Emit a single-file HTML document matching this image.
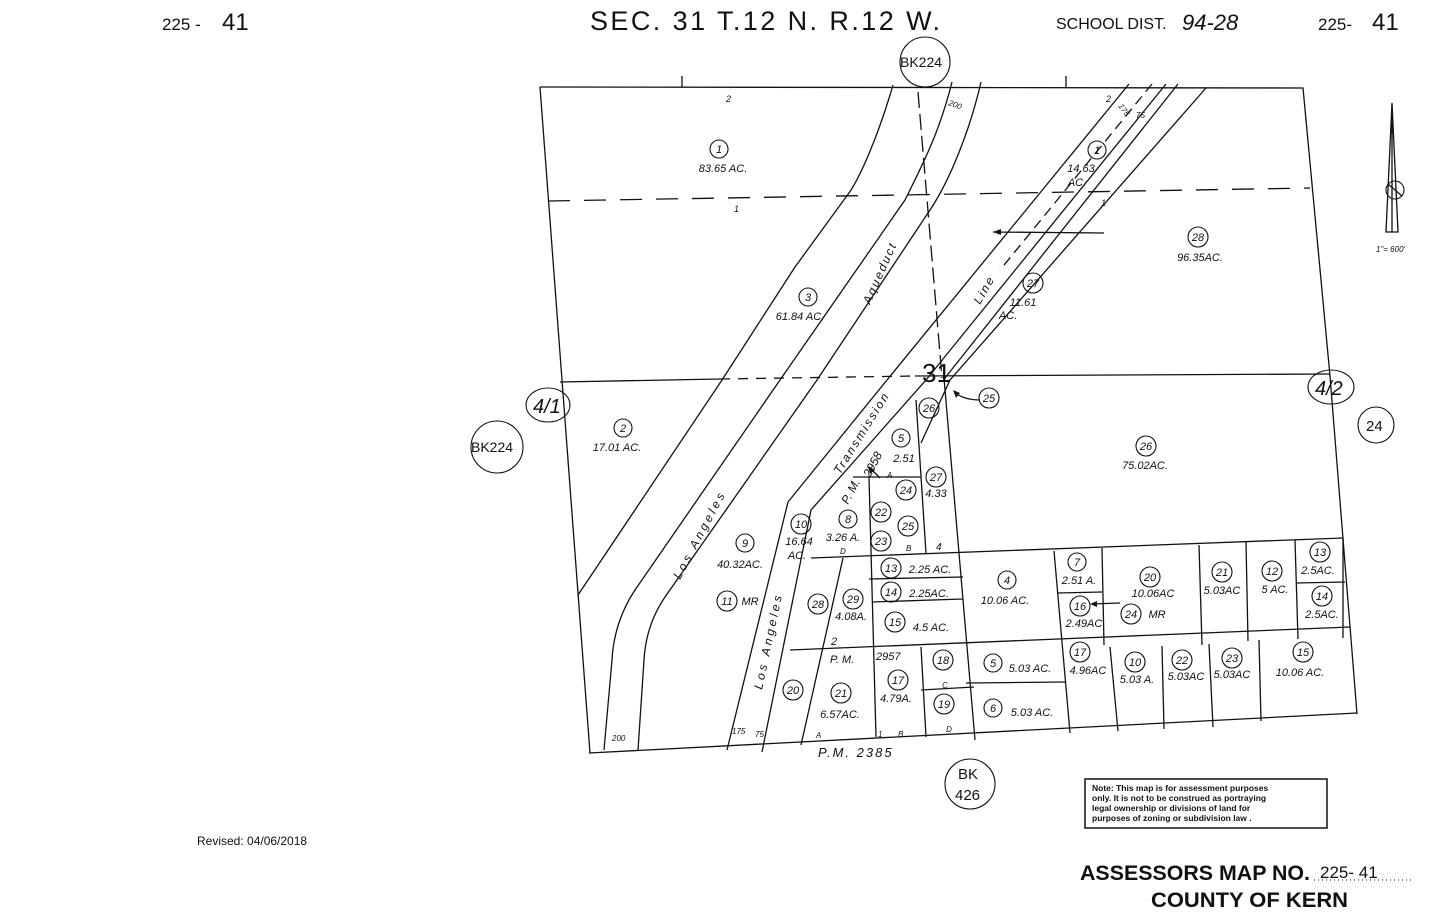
<!DOCTYPE html>
<html><head><meta charset="utf-8"><style>
html,body{margin:0;padding:0;background:#fff;}
svg{display:block;}
text{font-family:"Liberation Sans",sans-serif;fill:#111;}
.c{fill:none;stroke:#111;stroke-width:1.1}
.l{fill:none;stroke:#111;stroke-width:1.3}
.t{font-size:11px;font-style:italic;}
.n{font-size:11px;font-style:italic;text-anchor:middle;}
</style></head><body>
<svg width="1440" height="916" viewBox="0 0 1440 916" xmlns="http://www.w3.org/2000/svg">
<!-- header -->
<text x="162" y="30" font-size="17">225 -</text><text x="222" y="30" font-size="24">41</text>
<text x="590" y="30" font-size="27" textLength="350" lengthAdjust="spacing">SEC. 31  T.12 N.  R.12 W.</text>
<text x="1056" y="29" font-size="16">SCHOOL DIST.</text><text x="1182" y="30" font-size="22" font-style="italic">94-28</text>
<text x="1318" y="30" font-size="17">225-</text><text x="1372" y="30" font-size="24">41</text>

<!-- outer boundary -->
<polyline class="l" points="540,87 1303,88 1330,376 1357,714"/>
<line class="l" x1="540" y1="87" x2="590" y2="753"/>
<line class="l" x1="589" y1="753" x2="1357" y2="713"/>
<line class="l" x1="682" y1="76" x2="682" y2="87"/><line class="l" x1="1066" y1="76" x2="1066" y2="87"/>
<line class="l" x1="548" y1="201" x2="1310" y2="188" stroke-dasharray="22,14"/>
<line class="l" x1="560" y1="382" x2="720" y2="379"/>
<line class="l" x1="720" y1="379" x2="915" y2="376" stroke-dasharray="10,8"/>
<line class="l" x1="915" y1="376" x2="1330" y2="374"/>
<!-- section dashed vertical -->
<line class="l" x1="918" y1="92" x2="942" y2="378" stroke-dasharray="16,6"/>
<line class="l" x1="944" y1="378" x2="975" y2="740"/>

<!-- parcel 3 line & aqueduct -->
<path class="l" d="M893,85 C880,130 860,180 846,197 L795,267 L722,380 L578,595"/>
<path class="l" d="M952,82 C940,130 925,160 905,200 L780,380 L635,590 Q614,622 612,660 L604,750"/>
<path class="l" d="M981,82 C970,130 950,180 930,210 L817,380 L665,597 Q646,625 644,660 L638,750"/>
<!-- transmission -->
<polyline class="l" points="1129,84 887,380 788,502 727,750"/>
<polyline class="l" points="1166,84 926,380 811,510 762,752"/>
<polyline class="l" points="1152,84 1000,270" stroke-dasharray="10,6"/>
<polyline class="l" points="1178,84 945,378"/>
<polyline class="l" points="1206,88 950,380 921,443"/>
<line class="l" x1="916" y1="400" x2="926" y2="553"/>
<line class="l" x1="993" y1="232" x2="1104" y2="233"/><path d="M993,232 l8,-3 v6z" fill="#111"/>
<!-- lower grid -->
<line class="l" x1="811" y1="558" x2="1343" y2="538"/>
<line class="l" x1="790" y1="650" x2="1350" y2="627"/>
<line class="l" x1="1296" y1="583" x2="1345" y2="582"/>
<line class="l" x1="1343" y1="538" x2="1343" y2="638"/>
<line class="l" x1="1054" y1="551" x2="1070" y2="733"/>
<line class="l" x1="1102" y1="548" x2="1104" y2="645"/>
<line class="l" x1="1057" y1="593" x2="1102" y2="592"/>
<line class="l" x1="1110" y1="647" x2="1118" y2="731"/>
<line class="l" x1="1162" y1="646" x2="1164" y2="729"/>
<line class="l" x1="1199" y1="545" x2="1202" y2="645"/>
<line class="l" x1="1209" y1="644" x2="1213" y2="727"/>
<line class="l" x1="1246" y1="542" x2="1248" y2="641"/>
<line class="l" x1="1259" y1="640" x2="1261" y2="721"/>
<line class="l" x1="1295" y1="540" x2="1298" y2="639"/>
<line class="l" x1="966" y1="683" x2="1065" y2="682"/>
<line class="l" x1="853" y1="477" x2="921" y2="477"/>
<line class="l" x1="869" y1="477" x2="876" y2="737"/>
<line class="l" x1="869" y1="579" x2="963" y2="577"/>
<line class="l" x1="872" y1="602" x2="963" y2="599"/>
<line class="l" x1="843" y1="558" x2="801" y2="745"/>
<line class="l" x1="921" y1="647" x2="926" y2="737"/>
<line class="l" x1="921" y1="690" x2="974" y2="687"/>
<path class="l" d="M880,478 l-10,-10" /><path d="M868,466 l2,8 l5,-4z" fill="#111"/>
<path class="l" d="M980,400 Q965,400 955,393"/><path d="M953,390 l3,8 l4,-5z" fill="#111"/>
<path class="l" d="M1120,603 L1092,604"/><path d="M1090,604 l7,-3 v6z" fill="#111"/>

<!-- north arrow -->
<path class="l" d="M1392,103 L1386,232 L1398,232 Z M1392,103 V232"/>
<circle class="c" cx="1395" cy="190" r="9"/><line class="l" x1="1388" y1="184" x2="1402" y2="196"/>
<text x="1376" y="252" font-size="8" font-style="italic">1"= 600'</text>

<!-- reference circles -->
<circle class="c" cx="925" cy="62" r="25"/><text x="900" y="67" font-size="14">BK224</text>
<ellipse class="c" cx="548" cy="405" rx="22" ry="17"/><text x="533" y="413" font-size="20" font-style="italic">4/1</text>
<circle class="c" cx="497" cy="447" r="26"/><text x="471" y="452" font-size="14">BK224</text>
<ellipse class="c" cx="1331" cy="387" rx="23" ry="17"/><text x="1315" y="395" font-size="20" font-style="italic">4/2</text>
<circle class="c" cx="1376" cy="425" r="18"/><text x="1366" y="431" font-size="15">24</text>
<circle class="c" cx="970" cy="784" r="25"/><text x="958" y="779" font-size="15">BK</text><text x="955" y="800" font-size="15">426</text>
<text x="922" y="382" font-size="26">31</text>

<!-- parcel circles -->
<g class="n">
<circle class="c" cx="719" cy="149" r="9"/><text x="719" y="153">1</text><text x="723" y="172">83.65 AC.</text>
<circle class="c" cx="1097" cy="150" r="9"/><text x="1097" y="154">1</text><text x="1081" y="172">14.63</text><text x="1077" y="186">AC.</text>
<circle class="c" cx="1198" cy="237" r="10"/><text x="1198" y="241">28</text><text x="1200" y="261">96.35AC.</text>
<circle class="c" cx="808" cy="297" r="9"/><text x="808" y="301">3</text><text x="800" y="320">61.84 AC.</text>
<circle class="c" cx="1033" cy="283" r="10"/><text x="1033" y="287">27</text><text x="1023" y="306">11.61</text><text x="1008" y="319">AC.</text>
<circle class="c" cx="989" cy="398" r="10"/><text x="989" y="402">25</text>
<circle class="c" cx="623" cy="428" r="9"/><text x="623" y="432">2</text><text x="617" y="451">17.01 AC.</text>
<circle class="c" cx="1146" cy="446" r="10"/><text x="1146" y="450">26</text><text x="1145" y="469">75.02AC.</text>
<circle class="c" cx="929" cy="408" r="10"/><text x="929" y="412">26</text>
<circle class="c" cx="901" cy="438" r="9"/><text x="901" y="442">5</text><text x="904" y="462">2.51</text>
<circle class="c" cx="936" cy="477" r="10"/><text x="936" y="481">27</text><text x="936" y="497">4.33</text>
<circle class="c" cx="906" cy="490" r="10"/><text x="906" y="494">24</text>
<circle class="c" cx="881" cy="512" r="10"/><text x="881" y="516">22</text>
<circle class="c" cx="908" cy="526" r="10"/><text x="908" y="530">25</text>
<circle class="c" cx="881" cy="541" r="10"/><text x="881" y="545">23</text>
<circle class="c" cx="848" cy="519" r="9"/><text x="848" y="523">8</text><text x="843" y="541">3.26 A.</text>
<circle class="c" cx="801" cy="524" r="10"/><text x="801" y="528">10</text><text x="799" y="545">16.64</text><text x="797" y="559">AC.</text>
<circle class="c" cx="745" cy="543" r="9"/><text x="745" y="547">9</text><text x="740" y="568">40.32AC.</text>
<circle class="c" cx="727" cy="601" r="10"/><text x="727" y="605">11</text><text x="750" y="605">MR</text>
<circle class="c" cx="818" cy="604" r="10"/><text x="818" y="608">28</text>
<circle class="c" cx="853" cy="599" r="10"/><text x="853" y="603">29</text><text x="851" y="620">4.08A.</text>
<circle class="c" cx="891" cy="568" r="10"/><text x="891" y="572">13</text><text x="930" y="573">2.25 AC.</text>
<circle class="c" cx="891" cy="592" r="10"/><text x="891" y="596">14</text><text x="929" y="597">2.25AC.</text>
<circle class="c" cx="895" cy="622" r="10"/><text x="895" y="626">15</text><text x="931" y="631">4.5 AC.</text>
<circle class="c" cx="1007" cy="580" r="9"/><text x="1007" y="584">4</text><text x="1005" y="604">10.06 AC.</text>
<circle class="c" cx="1077" cy="562" r="9"/><text x="1077" y="566">7</text><text x="1079" y="584">2.51 A.</text>
<circle class="c" cx="1080" cy="606" r="10"/><text x="1080" y="610">16</text><text x="1084" y="627">2.49AC</text>
<circle class="c" cx="1131" cy="614" r="10"/><text x="1131" y="618">24</text><text x="1157" y="618">MR</text>
<circle class="c" cx="1150" cy="577" r="10"/><text x="1150" y="581">20</text><text x="1153" y="597">10.06AC</text>
<circle class="c" cx="1222" cy="572" r="10"/><text x="1222" y="576">21</text><text x="1222" y="594">5.03AC</text>
<circle class="c" cx="1272" cy="571" r="10"/><text x="1272" y="575">12</text><text x="1275" y="593">5 AC.</text>
<circle class="c" cx="1320" cy="552" r="10"/><text x="1320" y="556">13</text><text x="1318" y="574">2.5AC.</text>
<circle class="c" cx="1322" cy="596" r="10"/><text x="1322" y="600">14</text><text x="1322" y="618">2.5AC.</text>
<circle class="c" cx="943" cy="660" r="10"/><text x="943" y="664">18</text><text x="945" y="688" font-size="8">C</text>
<circle class="c" cx="944" cy="704" r="10"/><text x="944" y="708">19</text><text x="949" y="732" font-size="8">D</text>
<circle class="c" cx="993" cy="663" r="9"/><text x="993" y="667">5</text><text x="1030" y="672">5.03 AC.</text>
<circle class="c" cx="993" cy="708" r="9"/><text x="993" y="712">6</text><text x="1032" y="716">5.03 AC.</text>
<circle class="c" cx="1080" cy="652" r="10"/><text x="1080" y="656">17</text><text x="1088" y="674">4.96AC</text>
<circle class="c" cx="1135" cy="662" r="10"/><text x="1135" y="666">10</text><text x="1137" y="683">5.03 A.</text>
<circle class="c" cx="1182" cy="660" r="10"/><text x="1182" y="664">22</text><text x="1186" y="680">5.03AC</text>
<circle class="c" cx="1232" cy="658" r="10"/><text x="1232" y="662">23</text><text x="1232" y="678">5.03AC</text>
<circle class="c" cx="1303" cy="652" r="10"/><text x="1303" y="656">15</text><text x="1300" y="676">10.06 AC.</text>
<circle class="c" cx="793" cy="690" r="10"/><text x="793" y="694">20</text>
<circle class="c" cx="841" cy="693" r="10"/><text x="841" y="697">21</text><text x="840" y="718">6.57AC.</text>
<circle class="c" cx="898" cy="680" r="10"/><text x="898" y="684">17</text><text x="896" y="702">4.79A.</text>
</g>
<g class="t">
<text x="726" y="102" font-size="9">2</text><text x="734" y="212" font-size="9">1</text><text x="1101" y="206" font-size="9">1</text>
<text x="1106" y="102" font-size="9">2</text>
<text x="948" y="105" font-size="8" transform="rotate(20 948 105)">200</text>
<text x="1118" y="106" font-size="8" transform="rotate(55 1118 106)">175</text>
<text x="1136" y="118" font-size="8">75</text>
<text x="840" y="554" font-size="8">D</text><text x="906" y="551" font-size="8">B</text><text x="936" y="550" font-size="10">4</text>
<text x="887" y="478" font-size="8">A</text>
<text x="831" y="645" font-size="11">2</text><text x="830" y="663">P. M.</text><text x="876" y="660">2957</text>
<text x="816" y="738" font-size="8">A</text><text x="878" y="737" font-size="8">1</text><text x="898" y="737" font-size="8">B</text>
<text x="732" y="734" font-size="8">175</text><text x="755" y="737" font-size="8">75</text><text x="612" y="741" font-size="8">200</text>
<text x="818" y="757" font-size="13" letter-spacing="2">P.M. 2385</text>
<text x="870" y="478" font-size="12" transform="rotate(-62 870 478)">2958</text>
<text x="848" y="505" font-size="12" transform="rotate(-62 848 505)">P. M.</text>
<text x="840" y="475" font-size="12" letter-spacing="2" transform="rotate(-58 840 475)">Transmission</text>
<text x="980" y="305" font-size="12" letter-spacing="2" transform="rotate(-60 980 305)">Line</text>
<text x="870" y="305" font-size="12" letter-spacing="2" transform="rotate(-66 870 305)">Aqueduct</text>
<text x="680" y="580" font-size="12" letter-spacing="3" transform="rotate(-62 680 580)">Los  Angeles</text>
<text x="762" y="690" font-size="12" letter-spacing="3" transform="rotate(-78 762 690)">Los  Angeles</text>
</g>

<!-- footer -->
<text x="197" y="845" font-size="12">Revised:  04/06/2018</text>
<rect x="1085" y="779" width="242" height="49" fill="none" stroke="#111" stroke-width="1.5"/>
<text font-size="8.5" font-weight="bold"><tspan x="1092" y="791">Note: This map is for assessment purposes</tspan><tspan x="1092" y="801">only. It is not to be construed as portraying</tspan><tspan x="1092" y="811">legal ownership or divisions of land for</tspan><tspan x="1092" y="821">purposes of zoning or subdivision law .</tspan></text>
<text x="1080" y="880" font-size="21" font-weight="bold" textLength="230" lengthAdjust="spacingAndGlyphs">ASSESSORS MAP NO.</text>
<text x="1320" y="878" font-size="17">225- 41</text>
<line x1="1314" y1="880" x2="1414" y2="880" stroke="#111" stroke-dasharray="1,3"/>
<text x="1151" y="907" font-size="21" font-weight="bold" textLength="197" lengthAdjust="spacingAndGlyphs">COUNTY OF KERN</text>
</svg>
</body></html>
